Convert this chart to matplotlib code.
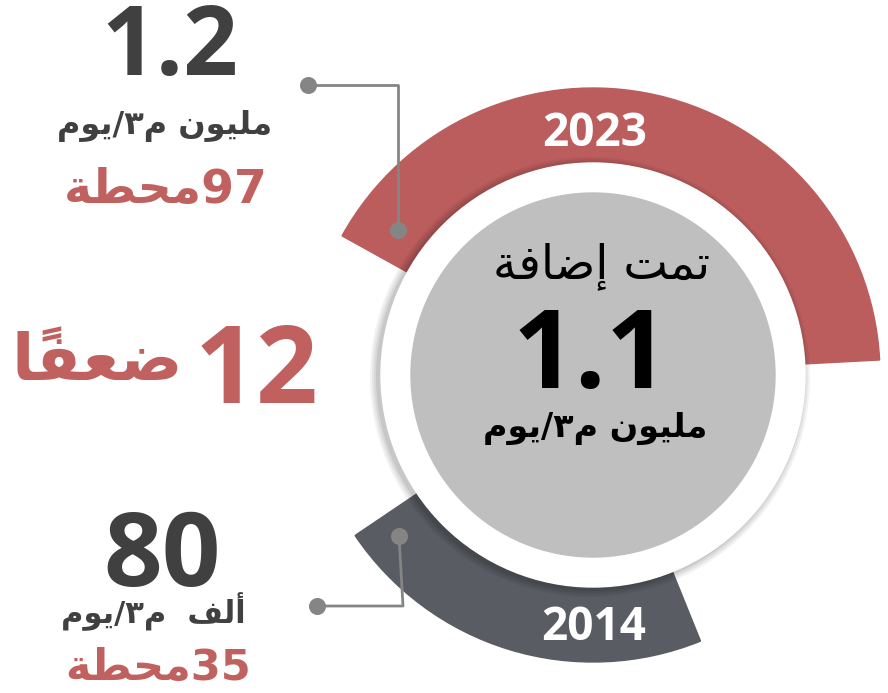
import re
import matplotlib.pyplot as plt
from matplotlib.patches import Wedge, Circle

years = ['2023', '2014']
capacity = ['1.2', '80']
capacity_unit = ['مليون م٣/يوم', 'ألف  م٣/يوم']
stations = ['97', '35']
added = '1.1'
added_label = 'تمت إضافة'
added_unit = 'مليون م٣/يوم'
factor = '12'
factor_word = 'ضعفًا'

RED = '#bc5d5d'
RED_TXT = '#c0605f'
DARK = '#404040'
ARC_GRAY = '#595c63'
DISC = '#bfbfbf'
LINK = '#858585'

# contextual forms: isolated, final, initial, medial
FORMS = {
    'ا': (0xFE8D, 0xFE8E), 'أ': (0xFE83, 0xFE84), 'إ': (0xFE87, 0xFE88),
    'ة': (0xFE93, 0xFE94), 'و': (0xFEED, 0xFEEE),
    'ت': (0xFE95, 0xFE96, 0xFE97, 0xFE98), 'ح': (0xFEA1, 0xFEA2, 0xFEA3, 0xFEA4),
    'ض': (0xFEBD, 0xFEBE, 0xFEBF, 0xFEC0), 'ط': (0xFEC1, 0xFEC2, 0xFEC3, 0xFEC4),
    'ع': (0xFEC9, 0xFECA, 0xFECB, 0xFECC), 'ف': (0xFED1, 0xFED2, 0xFED3, 0xFED4),
    'ل': (0xFEDD, 0xFEDE, 0xFEDF, 0xFEE0), 'م': (0xFEE1, 0xFEE2, 0xFEE3, 0xFEE4),
    'ن': (0xFEE5, 0xFEE6, 0xFEE7, 0xFEE8), 'ي': (0xFEF1, 0xFEF2, 0xFEF3, 0xFEF4),
}
MARKS = '\u064B'


def ar(s):
    # tiny shaper + rtl reordering, matplotlib does neither
    out = []
    for i, c in enumerate(s):
        if c not in FORMS:
            out.append(c)
            continue
        j = i - 1
        while j >= 0 and s[j] in MARKS:
            j -= 1
        k = i + 1
        while k < len(s) and s[k] in MARKS:
            k += 1
        prev = j >= 0 and s[j] in FORMS and len(FORMS[s[j]]) == 4
        nxt = k < len(s) and s[k] in FORMS and len(FORMS[c]) == 4
        idx = 3 if prev and nxt else 1 if prev else 2 if nxt else 0
        out.append(chr(FORMS[c][idx]))
    tokens = re.findall(r'[0-9.]+|.', ''.join(out))
    return ''.join(reversed(tokens))


NUM = ['Open Sans', 'DejaVu Sans']
plt.rcParams['font.family'] = ['DejaVu Sans']

fig = plt.figure(figsize=(8.88, 6.93), dpi=100)
ax = fig.add_axes([0, 0, 1, 1])
ax.set_xlim(0, 888)
ax.set_ylim(693, 0)
ax.set_aspect('equal')
ax.axis('off')

cx, cy = 593, 375
r_out, r_in = 287, 212

# arcs (y axis points down, so angles are mirrored)
ax.add_patch(Wedge((cx, cy), r_out, -151, -3, width=r_out - r_in, color=RED, zorder=2))
ax.add_patch(Wedge((cx, cy), r_out, 68, 146, width=r_out - r_in, color=ARC_GRAY, zorder=2))

# soft shadow + white ring + grey disc
for i, a in enumerate([0.05, 0.05, 0.06, 0.07]):
    ax.add_patch(Circle((cx - 3, cy + 2), r_in + 8 - 2 * i, color='black', alpha=a,
                        lw=0, zorder=3))
ax.add_patch(Circle((cx, cy), r_in, color='white', zorder=4))
ax.add_patch(Circle((cx, cy), 182, color=DISC, zorder=5))

# year labels on the arcs
ax.text(595, 146, years[0], color='white', fontsize=33, fontweight='bold',
        family=NUM, ha='center', va='baseline', zorder=6)
ax.text(594, 640, years[1], color='white', fontsize=33, fontweight='bold',
        family=NUM, ha='center', va='baseline', zorder=6)

# connectors
ax.plot([308, 398, 398], [85, 85, 230], color=LINK, lw=2, zorder=6)
ax.plot([399, 403, 317], [536, 606, 606], color=LINK, lw=2, zorder=6)
ax.scatter([308, 398, 399, 317], [85, 230, 536, 606], s=150, color=LINK, lw=0, zorder=7)

# centre text
ax.text(602, 266, ar(added_label), color='black', fontsize=34,
        ha='center', va='center', zorder=6)
ax.text(591, 388, added, color='black', fontsize=79, fontweight='bold',
        family=NUM, ha='center', va='baseline', zorder=6)
ax.text(595, 428, ar(added_unit), color='black', fontsize=24, fontweight='bold',
        ha='center', va='center', zorder=6)

# left column: 2023
ax.text(170, 75, capacity[0], color=DARK, fontsize=69, fontweight='bold',
        family=NUM, ha='center', va='baseline')
ax.text(165, 126, ar(capacity_unit[0]), color=DARK, fontsize=23, fontweight='bold',
        ha='center', va='center')
ax.text(166, 190, ar(stations[0] + 'محطة'), color=RED_TXT, fontsize=34, fontweight='bold',
        ha='center', va='center')

# factor
ax.text(318, 403, factor, color=RED_TXT, fontsize=78, fontweight='bold',
        family=NUM, ha='right', va='baseline')
ax.text(97, 362, ar(factor_word), color=RED_TXT, fontsize=47, fontweight='bold',
        ha='center', va='center')

# left column: 2014
ax.text(162, 586, capacity[1], color=DARK, fontsize=74, fontweight='bold',
        family=NUM, ha='center', va='baseline')
ax.text(153, 612, ar(capacity_unit[1]), color=DARK, fontsize=22, fontweight='bold',
        ha='center', va='center')
ax.text(158, 668, ar(stations[1] + 'محطة'), color=RED_TXT, fontsize=31, fontweight='bold',
        ha='center', va='center')

fig.savefig('out.png', dpi=100)
